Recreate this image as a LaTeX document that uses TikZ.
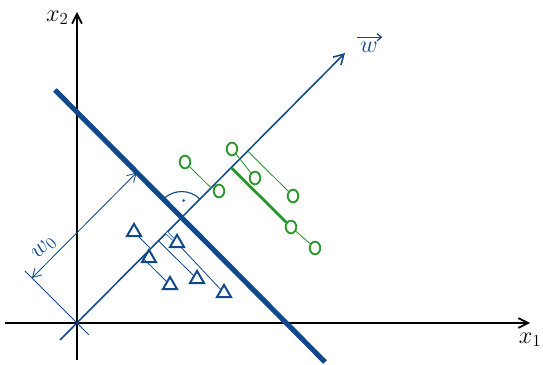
\documentclass[tikz,border=0pt]{standalone}
\usepackage{amsmath}
\usepackage{tikz}
\usetikzlibrary{shapes.geometric, arrows.meta, calc}

\definecolor{penblue}{RGB}{16,72,140}
\definecolor{pengreen}{RGB}{40,150,40}

\begin{document}
\begin{tikzpicture}[x=0.025cm, y=0.025cm,
    % --- STYLES ---
    axis/.style={line width=1.2pt, -{Straight Barb[length=7pt, width=7pt]}},
    wline/.style={draw=penblue, line width=1.1pt},
    boundary/.style={draw=penblue, line width=3.6pt},
    proj/.style={line width=0.6pt},
    plusmark/.style={ellipse, draw=pengreen, line width=1.3pt, minimum width=7.5pt, minimum height=9pt, inner sep=0pt},
    minusmark/.style={regular polygon, regular polygon sides=3, draw=penblue, line width=1.4pt, minimum size=11.5pt, inner sep=0pt},
    dimline/.style={draw=penblue, line width=0.6pt, {Straight Barb[length=6pt, width=7pt]}-{Straight Barb[length=6pt, width=7pt]}}
]
    \useasboundingbox (-77,-42) rectangle (466,323);

    % ==========================================
    % AXES
    % ==========================================
    \coordinate (O) at (0,0);
    \draw[axis] (-72,0) -- (453,0) node[below=3pt, font=\LARGE] (xone) {$x_1$};
    \draw[axis] (0,-37) -- (0,311) node[left=2pt, font=\LARGE, yshift=-4pt] (xtwo) {$x_2$};

    % ==========================================
    % NORMAL VECTOR AND DECISION LINE
    % ==========================================
    \coordinate (W) at (268,270);
    \draw[wline, -{Straight Barb[length=7pt, width=8pt]}] (-17,-17) -- (W);
    \node[penblue, font=\LARGE, inner sep=1pt] (wlabel) at (292,276) {$w$};
    \draw[penblue, line width=0.9pt, -{Straight Barb[length=3pt, width=5pt]}] ([xshift=-1pt, yshift=2pt]wlabel.north west) -- ([xshift=2pt, yshift=2pt]wlabel.north east);

    \coordinate (B1) at (-22,233);
    \coordinate (B2) at (248,-39);
    \draw[boundary] (B1) -- (B2);
    \coordinate (I) at (intersection of O--W and B1--B2);

    % right angle
    \draw[penblue, line width=0.8pt] ($(I)+(45:26)$) arc[start angle=45, end angle=135, radius=26];
    \fill[penblue] ($(I)+(2,17)$) circle (1pt);

    % offset w_0
    \coordinate (dimA) at (-45,45);
    \coordinate (dimB) at ($(I)+(-45,45)$);
    \draw[penblue, line width=0.6pt] (-52,52) -- (12,-12);
    \draw[dimline] (dimA) -- node[pos=0.2, sloped, above, font=\LARGE, penblue] (wzero) {$w_0$} (dimB);

    % ==========================================
    % CLASS +1 (circles)
    % ==========================================
    \node[plusmark] (g1) at (108,161) {};
    \node[plusmark] (g2) at (142,132) {};
    \node[plusmark] (g3) at (155,174) {};
    \node[plusmark] (g4) at (178,145) {};
    \node[plusmark] (g5) at (216,127) {};
    \node[plusmark] (g6) at (214,96) {};
    \node[plusmark] (g7) at (238,75) {};

    \draw[pengreen, proj] (g1) -- ($(O)!(g1)!(W)$);
    \draw[pengreen, proj] (g3) -- (g4);
    \draw[pengreen, proj] ($(O)!(g5)!(W)$) -- (g5);
    \draw[pengreen, line width=2pt] ($(O)!(g6)!(W)$) -- (g6);
    \draw[pengreen, proj] (g6) -- (g7);

    % ==========================================
    % CLASS -1 (triangles)
    % ==========================================
    \node[minusmark] (ta) at (57,91) {};
    \node[minusmark] (tb) at (72,65) {};
    \node[minusmark] (tc) at (93,38) {};
    \node[minusmark] (td) at (120,44) {};
    \node[minusmark] (te) at (100,80) {};
    \node[minusmark] (tf) at (147,30) {};

    \draw[penblue, proj] (ta) -- ($(O)!(ta)!(W)$);
    \draw[penblue, proj] ($(O)!(tc)!(W)$) -- (tc);
    \draw[penblue, proj] ($(O)!(td)!(W)$) -- (td);
    \draw[penblue, line width=0.5pt, double, double distance=1.2pt] ($(O)!(te)!(W)$) -- (te);
    \draw[penblue, proj] (te) -- (tf);

\end{tikzpicture}
\end{document}
